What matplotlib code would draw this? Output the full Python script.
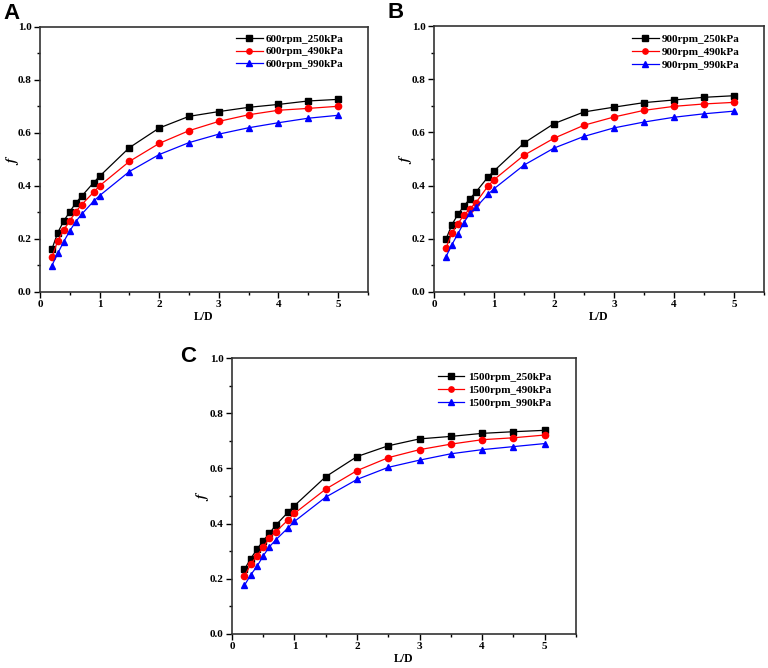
import numpy as np
import matplotlib
matplotlib.use('Agg')
import matplotlib.pyplot as plt
from matplotlib.ticker import MultipleLocator, FormatStrFormatter

LD = [0.2, 0.3, 0.4, 0.5, 0.6, 0.7, 0.9, 1.0, 1.5, 2.0, 2.5, 3.0, 3.5, 4.0, 4.5, 5.0]

# panel A: 600 rpm
a_250 = [0.161, 0.224, 0.268, 0.302, 0.335, 0.361, 0.412, 0.436, 0.544, 0.618, 0.662, 0.680, 0.696, 0.707, 0.720, 0.726]
a_490 = [0.131, 0.193, 0.234, 0.268, 0.302, 0.329, 0.376, 0.400, 0.492, 0.560, 0.608, 0.643, 0.668, 0.685, 0.692, 0.700]
a_990 = [0.099, 0.146, 0.190, 0.230, 0.265, 0.293, 0.342, 0.363, 0.454, 0.518, 0.563, 0.595, 0.619, 0.638, 0.655, 0.666]

# panel B: 900 rpm
b_250 = [0.198, 0.253, 0.292, 0.323, 0.351, 0.376, 0.432, 0.455, 0.560, 0.633, 0.677, 0.695, 0.712, 0.722, 0.732, 0.738]
b_490 = [0.164, 0.222, 0.257, 0.289, 0.313, 0.336, 0.398, 0.422, 0.514, 0.578, 0.627, 0.658, 0.683, 0.698, 0.707, 0.713]
b_990 = [0.132, 0.178, 0.219, 0.261, 0.296, 0.318, 0.367, 0.388, 0.477, 0.541, 0.585, 0.617, 0.639, 0.657, 0.670, 0.680]

# panel C: 1500 rpm
c_250 = [0.234, 0.273, 0.307, 0.338, 0.365, 0.394, 0.442, 0.465, 0.570, 0.643, 0.682, 0.707, 0.716, 0.727, 0.733, 0.738]
c_490 = [0.210, 0.252, 0.284, 0.314, 0.349, 0.370, 0.414, 0.437, 0.525, 0.592, 0.639, 0.668, 0.688, 0.704, 0.711, 0.721]
c_990 = [0.176, 0.214, 0.245, 0.283, 0.316, 0.341, 0.385, 0.408, 0.496, 0.560, 0.604, 0.630, 0.653, 0.668, 0.679, 0.690]

PRESSURES = ['250kPa', '490kPa', '990kPa']
STYLES = [('black', 's'), ('red', 'o'), ('blue', '^')]

plt.rcParams['font.family'] = 'Liberation Serif'
plt.rcParams['font.weight'] = 'bold'
plt.rcParams['mathtext.fontset'] = 'stix'


def panel(fig, rect, letter, letter_xy, speed, series, leg_anchor):
    ax = fig.add_axes(rect)
    for ys, p, (col, mk) in zip(series, PRESSURES, STYLES):
        ax.plot(LD, ys, color=col, marker=mk, markersize=4.5, linewidth=0.9,
                label=f'{speed}rpm_{p}')
    ax.set_xlim(0, 5.5)
    ax.set_ylim(0, 1.0)
    ax.xaxis.set_major_locator(MultipleLocator(1))
    ax.xaxis.set_minor_locator(MultipleLocator(0.5))
    ax.yaxis.set_major_locator(MultipleLocator(0.2))
    ax.yaxis.set_minor_locator(MultipleLocator(0.1))
    ax.yaxis.set_major_formatter(FormatStrFormatter('%.1f'))
    ax.tick_params(which='both', direction='out', labelsize=8, width=1, pad=2)
    ax.tick_params(which='major', length=4)
    ax.tick_params(which='minor', length=2)
    for s in ax.spines.values():
        s.set_linewidth(1.2)
        s.set_color('#333333')
    ax.set_xlabel('L/D', fontsize=8.5, fontweight='bold', labelpad=1)
    ax.set_ylabel('$f$', fontsize=10, va='center')
    ax.yaxis.set_label_coords(-0.085, 0.5)
    ax.legend(loc='upper right', frameon=False, fontsize=8, handlelength=2.4,
              handletextpad=0.3, labelspacing=0.28, borderaxespad=0.0,
              markerscale=0.85, bbox_to_anchor=leg_anchor)
    fig.text(letter_xy[0], letter_xy[1], letter, fontsize=16, fontweight='bold',
             family='Liberation Sans', va='center', ha='left')
    return ax


fig = plt.figure(figsize=(7.68, 6.68), dpi=100)
panel(fig, [0.052, 0.563, 0.427, 0.397], 'A', (0.004, 0.980), 600,
      [a_250, a_490, a_990], (0.94, 0.99))
panel(fig, [0.565, 0.563, 0.430, 0.398], 'B', (0.505, 0.982), 900,
      [b_250, b_490, b_990], (0.94, 0.985))
panel(fig, [0.302, 0.051, 0.448, 0.413], 'C', (0.234, 0.467), 1500,
      [c_250, c_490, c_990], (0.94, 0.965))
fig.savefig('out.png', dpi=100)
